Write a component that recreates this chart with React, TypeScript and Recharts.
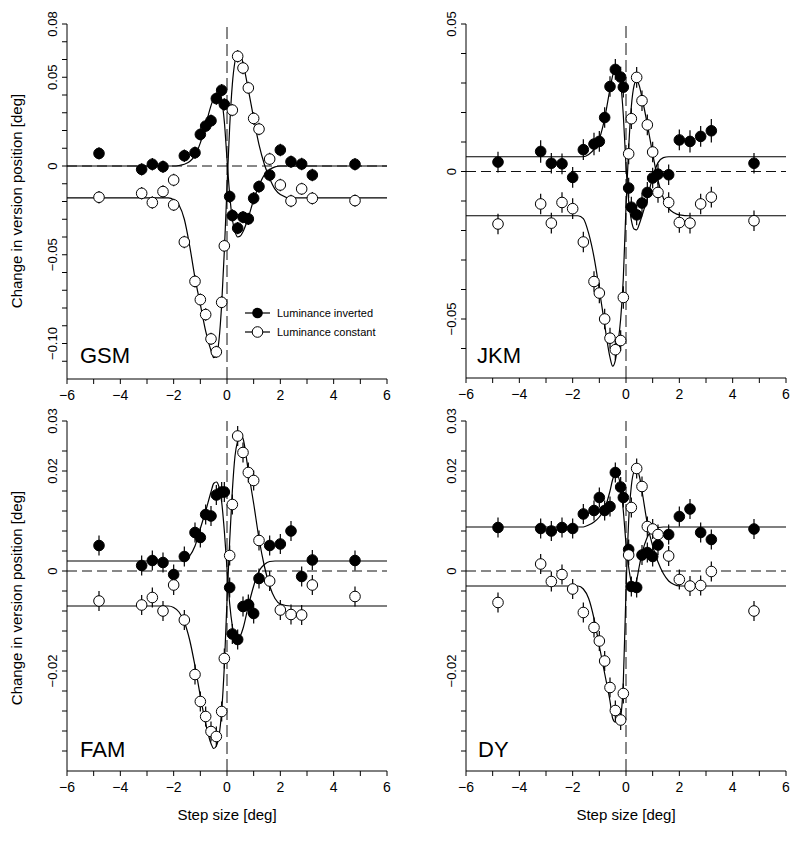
import React from 'react'
import { ComposedChart, Line, Scatter, XAxis, YAxis, ReferenceLine, ErrorBar } from 'recharts'

const FONT = '"Liberation Sans", Arial, Helvetica, sans-serif'

type Pt = [number, number, number]
type Fit = [number, number]

const stepTicks = [-6, -5, -4, -3, -2, -1, 0, 1, 2, 3, 4, 5, 6]

// ---- GSM ----
const gsmInverted: Pt[] = [
  [-4.8, 0.0071, 0.0035], [-3.2, -0.0019, 0.0035], [-2.8, 0.001, 0.0035], [-2.4, -0.0004, 0.0035],
  [-1.6, 0.0058, 0.0035], [-1.2, 0.0075, 0.0035], [-1.0, 0.0178, 0.0035], [-0.8, 0.0225, 0.0035],
  [-0.6, 0.0255, 0.0035], [-0.4, 0.038, 0.0035], [-0.2, 0.0427, 0.0035], [-0.1, 0.0347, 0.0035],
  [0.1, -0.0172, 0.0035], [0.2, -0.0279, 0.0035], [0.4, -0.035, 0.0035], [0.6, -0.0288, 0.0035],
  [0.8, -0.0298, 0.0035], [1.0, -0.0182, 0.0035], [1.2, -0.0116, 0.0035], [1.6, -0.0051, 0.0035],
  [2.0, 0.009, 0.0035], [2.4, 0.0024, 0.0035], [2.8, 0.0011, 0.0035], [3.2, -0.0051, 0.0035],
  [4.8, 0.001, 0.0035],
]
const gsmConstant: Pt[] = [
  [-4.8, -0.0176, 0.0035], [-3.2, -0.0154, 0.0035], [-2.8, -0.0206, 0.0035], [-2.4, -0.0144, 0.0035],
  [-2.0, -0.0079, 0.0035], [-2.0, -0.0219, 0.0035], [-1.6, -0.0428, 0.0035], [-1.2, -0.065, 0.0035],
  [-1.0, -0.0753, 0.0035], [-0.8, -0.0837, 0.0035], [-0.6, -0.0974, 0.0035], [-0.4, -0.1047, 0.0035],
  [-0.2, -0.0768, 0.0035], [-0.1, -0.045, 0.0035], [0.2, 0.0315, 0.0035], [0.4, 0.0618, 0.0035],
  [0.6, 0.0552, 0.0035], [0.8, 0.044, 0.0035], [1.0, 0.0268, 0.0035], [1.2, 0.0208, 0.0035],
  [1.6, 0.0039, 0.0035], [2.0, -0.0107, 0.0035], [2.4, -0.0197, 0.0035], [2.8, -0.0129, 0.0035],
  [3.2, -0.0182, 0.0035], [4.8, -0.0195, 0.0035],
]
const gsmInvertedFit: Fit[] = [
  [-6, 0], [-2, 0], [-1.8, 0.0003], [-1.6, 0.001], [-1.4, 0.0025], [-1.2, 0.006], [-1.0, 0.013],
  [-0.8, 0.023], [-0.6, 0.034], [-0.5, 0.038], [-0.4, 0.04], [-0.3, 0.0405], [-0.2, 0.037],
  [-0.1, 0.025], [0, 0.004], [0.1, -0.016], [0.2, -0.03], [0.3, -0.037], [0.4, -0.04], [0.5, -0.0395],
  [0.6, -0.037], [0.8, -0.029], [1.0, -0.019], [1.2, -0.011], [1.4, -0.005], [1.6, -0.002],
  [1.8, -0.0005], [2.0, 0], [6, 0],
]
const gsmConstantFit: Fit[] = [
  [-6, -0.018], [-2.2, -0.018], [-2.0, -0.019], [-1.8, -0.022], [-1.6, -0.03], [-1.4, -0.045],
  [-1.2, -0.063], [-1.0, -0.078], [-0.8, -0.093], [-0.6, -0.104], [-0.5, -0.108], [-0.4, -0.107],
  [-0.3, -0.098], [-0.2, -0.078], [-0.1, -0.048], [0, -0.012], [0.1, 0.022], [0.2, 0.046],
  [0.3, 0.059], [0.4, 0.064], [0.5, 0.063], [0.6, 0.058], [0.8, 0.043], [1.0, 0.027], [1.2, 0.012],
  [1.4, 0.001], [1.6, -0.007], [1.8, -0.013], [2.0, -0.016], [2.4, -0.018], [6, -0.018],
]
const gsmYTicks = [0.08, 0.07, 0.06, 0.05, 0.04, 0.03, 0.02, 0.01, 0, -0.01, -0.02, -0.03, -0.04, -0.05, -0.06, -0.07, -0.08, -0.09, -0.1, -0.11]
const gsmYLabels: [number, string][] = [[0.08, '0.08'], [0.05, '0.05'], [0, '0'], [-0.05, '−0.05'], [-0.1, '−0.10']]

// ---- JKM ----
const jkmInverted: Pt[] = [
  [-4.8, 0.0032, 0.0035], [-3.2, 0.0068, 0.0038], [-2.8, 0.0028, 0.0035], [-2.4, 0.0026, 0.0035],
  [-2.0, -0.002, 0.0035], [-1.6, 0.0074, 0.0035], [-1.2, 0.0093, 0.0038], [-1.0, 0.0102, 0.0035],
  [-0.8, 0.0183, 0.0035], [-0.6, 0.0288, 0.0035], [-0.4, 0.0346, 0.0035], [-0.2, 0.032, 0.0035],
  [-0.1, 0.0286, 0.0035], [0.1, -0.0056, 0.0035], [0.2, -0.0121, 0.0035], [0.4, -0.0147, 0.0035],
  [0.6, -0.0107, 0.0035], [0.8, -0.0071, 0.0035], [1.0, -0.0022, 0.0035], [1.2, -0.0009, 0.0035],
  [1.6, -0.0011, 0.0035], [2.0, 0.0107, 0.0035], [2.4, 0.0102, 0.0038], [2.8, 0.0119, 0.0035],
  [3.2, 0.0138, 0.004], [4.8, 0.0028, 0.0035],
]
const jkmConstant: Pt[] = [
  [-4.8, -0.0178, 0.0035], [-3.2, -0.011, 0.0035], [-2.8, -0.0175, 0.0035], [-2.4, -0.0105, 0.0035],
  [-2.0, -0.0126, 0.0035], [-1.6, -0.0239, 0.0035], [-1.2, -0.0373, 0.0035], [-1.0, -0.0412, 0.0035],
  [-0.8, -0.05, 0.0035], [-0.6, -0.0565, 0.0035], [-0.4, -0.0604, 0.0035], [-0.2, -0.0573, 0.0035],
  [-0.1, -0.0427, 0.0038], [0.1, 0.006, 0.0035], [0.2, 0.0179, 0.0035], [0.4, 0.0319, 0.0035],
  [0.6, 0.024, 0.0035], [0.8, 0.0158, 0.0035], [1.0, 0.0066, 0.0035], [1.2, -0.0071, 0.0035],
  [1.6, -0.0105, 0.0035], [2.0, -0.0173, 0.0035], [2.4, -0.0175, 0.0035], [2.8, -0.011, 0.0035],
  [3.2, -0.0087, 0.0035], [4.8, -0.0167, 0.0035],
]
const jkmInvertedFit: Fit[] = [
  [-6, 0.005], [-1.6, 0.005], [-1.4, 0.0058], [-1.2, 0.0075], [-1.0, 0.011], [-0.8, 0.018],
  [-0.6, 0.028], [-0.5, 0.0325], [-0.4, 0.0347], [-0.3, 0.034], [-0.2, 0.03], [-0.1, 0.019],
  [0, 0.002], [0.1, -0.01], [0.2, -0.0165], [0.3, -0.0195], [0.4, -0.0198], [0.5, -0.0178],
  [0.6, -0.015], [0.8, -0.009], [1.0, -0.002], [1.2, 0.003], [1.4, 0.0047], [1.6, 0.005], [6, 0.005],
]
const jkmConstantFit: Fit[] = [
  [-6, -0.015], [-1.8, -0.015], [-1.6, -0.016], [-1.4, -0.021], [-1.2, -0.029], [-1.0, -0.04],
  [-0.8, -0.052], [-0.6, -0.063], [-0.5, -0.066], [-0.4, -0.064], [-0.3, -0.058], [-0.2, -0.05],
  [-0.1, -0.036], [0, -0.012], [0.1, 0.008], [0.2, 0.022], [0.3, 0.029], [0.4, 0.031], [0.5, 0.029],
  [0.6, 0.025], [0.8, 0.016], [1.0, 0.006], [1.2, -0.003], [1.4, -0.009], [1.6, -0.0125],
  [1.8, -0.014], [2.0, -0.0147], [2.4, -0.015], [6, -0.015],
]
const jkmYTicks = [0.05, 0.04, 0.03, 0.02, 0.01, 0, -0.01, -0.02, -0.03, -0.04, -0.05, -0.06]
const jkmYLabels: [number, string][] = [[0.05, '0.05'], [0, '0'], [-0.05, '−0.05']]

// ---- FAM ----
const famInverted: Pt[] = [
  [-4.8, 0.0051, 0.002], [-3.2, 0.0011, 0.002], [-2.8, 0.0021, 0.002], [-2.4, 0.0017, 0.002],
  [-2.0, -0.0007, 0.002], [-1.6, 0.0029, 0.002], [-1.2, 0.0077, 0.002], [-1.0, 0.0067, 0.002],
  [-0.8, 0.0113, 0.002], [-0.6, 0.011, 0.002], [-0.4, 0.0152, 0.002], [-0.2, 0.0158, 0.002],
  [-0.1, 0.0158, 0.002], [0.1, -0.0033, 0.002], [0.2, -0.0126, 0.002], [0.4, -0.0137, 0.002],
  [0.6, -0.0071, 0.002], [0.8, -0.0067, 0.002], [1.0, -0.0085, 0.002], [1.2, -0.0015, 0.002],
  [1.6, 0.0051, 0.002], [2.0, 0.0054, 0.002], [2.4, 0.008, 0.002], [2.8, -0.0011, 0.002],
  [3.2, 0.0022, 0.002], [4.8, 0.0021, 0.002],
]
const famConstant: Pt[] = [
  [-4.8, -0.006, 0.002], [-3.2, -0.0068, 0.002], [-2.8, -0.0053, 0.002], [-2.4, -0.008, 0.002],
  [-2.0, -0.0028, 0.002], [-1.6, -0.0098, 0.002], [-1.2, -0.0207, 0.002], [-1.0, -0.0261, 0.002],
  [-0.8, -0.0291, 0.002], [-0.6, -0.0321, 0.002], [-0.4, -0.0331, 0.002], [-0.2, -0.0281, 0.002],
  [-0.1, -0.0175, 0.002], [0.1, 0.0031, 0.002], [0.2, 0.0133, 0.002], [0.4, 0.027, 0.002],
  [0.6, 0.0237, 0.002], [0.8, 0.0197, 0.002], [1.0, 0.0181, 0.002], [1.2, 0.0061, 0.002],
  [1.6, -0.002, 0.002], [2.0, -0.0078, 0.002], [2.4, -0.0087, 0.002], [2.8, -0.0088, 0.002],
  [3.2, -0.0028, 0.002], [4.8, -0.0051, 0.002],
]
const famInvertedFit: Fit[] = [
  [-6, 0.002], [-1.6, 0.002], [-1.4, 0.003], [-1.2, 0.005], [-1.0, 0.0085], [-0.8, 0.012],
  [-0.6, 0.0158], [-0.5, 0.0175], [-0.4, 0.0178], [-0.3, 0.0168], [-0.2, 0.0138], [-0.1, 0.008],
  [0, 0.0005], [0.1, -0.0065], [0.2, -0.011], [0.3, -0.0135], [0.4, -0.0138], [0.5, -0.013],
  [0.6, -0.0115], [0.8, -0.007], [1.0, -0.003], [1.2, 0], [1.4, 0.0013], [1.6, 0.0019], [1.8, 0.002],
  [6, 0.002],
]
const famConstantFit: Fit[] = [
  [-6, -0.007], [-2.2, -0.007], [-2.0, -0.0073], [-1.8, -0.0082], [-1.6, -0.0102], [-1.4, -0.0138],
  [-1.2, -0.019], [-1.0, -0.025], [-0.8, -0.0305], [-0.6, -0.0345], [-0.5, -0.0355], [-0.4, -0.035],
  [-0.3, -0.033], [-0.2, -0.028], [-0.1, -0.019], [0, -0.006], [0.1, 0.006], [0.2, 0.016],
  [0.3, 0.023], [0.4, 0.026], [0.5, 0.0272], [0.6, 0.0265], [0.8, 0.02], [1.0, 0.0135], [1.2, 0.0065],
  [1.4, 0.001], [1.6, -0.003], [1.8, -0.0055], [2.0, -0.0066], [2.4, -0.007], [6, -0.007],
]

// ---- DY ----
const dyInverted: Pt[] = [
  [-4.8, 0.0087, 0.002], [-3.2, 0.0085, 0.002], [-2.8, 0.008, 0.002], [-2.4, 0.0087, 0.002],
  [-2.0, 0.0085, 0.002], [-1.6, 0.0114, 0.002], [-1.2, 0.0121, 0.002], [-1.0, 0.0147, 0.002],
  [-0.8, 0.0121, 0.002], [-0.6, 0.0129, 0.002], [-0.4, 0.0197, 0.002], [-0.2, 0.0168, 0.002],
  [-0.1, 0.0147, 0.002], [0.1, 0.0043, 0.002], [0.2, -0.0031, 0.002], [0.4, -0.0033, 0.002],
  [0.6, 0.0032, 0.002], [0.8, 0.0037, 0.002], [1.0, 0.0029, 0.002], [1.2, 0.0052, 0.002],
  [1.6, 0.0073, 0.002], [2.0, 0.0109, 0.002], [2.4, 0.0124, 0.002], [2.8, 0.0077, 0.002],
  [3.2, 0.0063, 0.002], [4.8, 0.0084, 0.002],
]
const dyConstant: Pt[] = [
  [-4.8, -0.0063, 0.002], [-3.2, 0.0014, 0.002], [-2.8, -0.0021, 0.002], [-2.4, -0.0007, 0.002],
  [-2.0, -0.0036, 0.002], [-1.6, -0.0083, 0.002], [-1.2, -0.0113, 0.002], [-1.0, -0.014, 0.002],
  [-0.8, -0.018, 0.002], [-0.6, -0.0233, 0.002], [-0.4, -0.0279, 0.002], [-0.2, -0.0298, 0.002],
  [-0.1, -0.0245, 0.002], [0.1, 0.0032, 0.002], [0.2, 0.0127, 0.002], [0.4, 0.0205, 0.002],
  [0.6, 0.0169, 0.002], [0.8, 0.0089, 0.002], [1.0, 0.0084, 0.002], [1.2, 0.0073, 0.002],
  [1.6, 0.003, 0.002], [2.0, -0.0017, 0.002], [2.4, -0.003, 0.002], [2.8, -0.0029, 0.002],
  [3.2, -0.0001, 0.002], [4.8, -0.008, 0.002],
]
const dyInvertedFit: Fit[] = [
  [-6, 0.0088], [-1.6, 0.0088], [-1.4, 0.0092], [-1.2, 0.0098], [-1.0, 0.0108], [-0.8, 0.0125],
  [-0.6, 0.016], [-0.5, 0.0183], [-0.4, 0.0194], [-0.3, 0.019], [-0.2, 0.0168], [-0.1, 0.012],
  [0, 0.0055], [0.1, 0.0008], [0.2, -0.0022], [0.3, -0.003], [0.4, -0.0018], [0.5, 0.001],
  [0.6, 0.0035], [0.8, 0.0068], [1.0, 0.0083], [1.2, 0.0087], [1.4, 0.0088], [6, 0.0088],
]
const dyConstantFit: Fit[] = [
  [-6, -0.003], [-1.8, -0.003], [-1.6, -0.0036], [-1.4, -0.0055], [-1.2, -0.0095], [-1.0, -0.015],
  [-0.8, -0.0205], [-0.6, -0.026], [-0.5, -0.0295], [-0.4, -0.0302], [-0.3, -0.0302], [-0.2, -0.029],
  [-0.1, -0.022], [0, -0.004], [0.1, 0.01], [0.2, 0.017], [0.3, 0.0198], [0.4, 0.0202], [0.5, 0.019],
  [0.6, 0.016], [0.8, 0.0095], [1.0, 0.005], [1.2, 0.0018], [1.4, -0.0005], [1.6, -0.002],
  [1.8, -0.0027], [2.0, -0.003], [6, -0.003],
]

const smallYTicks = [0.03, 0.024, 0.02, 0.016, 0.012, 0.008, 0.004, 0, -0.004, -0.008, -0.012, -0.016, -0.02, -0.024, -0.028, -0.032, -0.036]
const smallYLabels: [number, string][] = [[0.03, '0.03'], [0.02, '0.02'], [0, '0'], [-0.02, '−0.02']]

const toPoints = (arr: Pt[]) => arr.map(([x, y, e]) => ({ x, y, e }))
const toFit = (arr: Fit[]) => arr.map(([x, y]) => ({ x, y }))

const FilledDot = (p: any) => <circle cx={p.cx} cy={p.cy} r={5.3} fill="#000" stroke="#000" strokeWidth={1} />
const OpenDot = (p: any) => <circle cx={p.cx} cy={p.cy} r={5.3} fill="#fff" stroke="#000" strokeWidth={1} />

const XTick = (props: any) => {
  const v = props.payload.value
  if (v % 2 !== 0) return <g />
  return (
    <text x={props.x} y={props.y + 14} textAnchor="middle" fontSize={14} fontFamily={FONT} fill="#000">
      {v < 0 ? '−' + Math.abs(v) : String(v)}
    </text>
  )
}

const makeYTick = (labels: [number, string][]) => (props: any) => {
  const v = props.payload.value
  const hit = labels.find(([val]) => Math.abs(val - v) < 1e-6)
  if (!hit) return <g />
  const x = props.x - 3
  return (
    <text x={x} y={props.y} transform={`rotate(-90, ${x}, ${props.y})`} textAnchor="middle"
      fontSize={13} fontFamily={FONT} fill="#000">{hit[1]}</text>
  )
}

const TOP_PAD = 24

function Panel(props: any) {
  const { left, top, plotH, domain, ticks, labels, inv, con, invFit, conFit } = props
  return (
    <div style={{ position: 'absolute', left: left - 68, top: top - TOP_PAD - 8 }}>
      <ComposedChart width={394} height={plotH + TOP_PAD + 34} margin={{ top: TOP_PAD, right: 14, left: 0, bottom: 0 }}>
        <XAxis type="number" dataKey="x" domain={[-6, 6]} ticks={stepTicks} interval={0} allowDataOverflow
          tickSize={5} height={34} axisLine={{ stroke: '#000' }} tickLine={{ stroke: '#000' }} tick={XTick} />
        <YAxis type="number" dataKey="y" domain={domain} ticks={ticks} interval={0} allowDataOverflow
          tickSize={5} width={60} axisLine={{ stroke: '#000' }} tickLine={{ stroke: '#000' }} tick={makeYTick(labels)} />
        <ReferenceLine y={0} stroke="#111" strokeDasharray="10 5" />
        <ReferenceLine x={0} stroke="#111" strokeDasharray="12 5" />
        <Line data={toFit(invFit)} dataKey="y" type="monotone" stroke="#000" strokeWidth={1.2} dot={false} isAnimationActive={false} />
        <Line data={toFit(conFit)} dataKey="y" type="monotone" stroke="#000" strokeWidth={1.2} dot={false} isAnimationActive={false} />
        <Scatter data={toPoints(inv)} dataKey="y" shape={FilledDot} isAnimationActive={false}>
          <ErrorBar dataKey="e" direction="y" width={0} stroke="#000" strokeWidth={1.2} />
        </Scatter>
        <Scatter data={toPoints(con)} dataKey="y" shape={OpenDot} isAnimationActive={false}>
          <ErrorBar dataKey="e" direction="y" width={0} stroke="#000" strokeWidth={1.2} />
        </Scatter>
      </ComposedChart>
    </div>
  )
}

export default function App() {
  const yTitle = 'Change in version position [deg]'
  return (
    <div style={{ position: 'relative', width: 792, height: 834 }}>
      <Panel left={67} top={24} plotH={355} domain={[-0.12, 0.08]} ticks={gsmYTicks} labels={gsmYLabels}
        inv={gsmInverted} con={gsmConstant} invFit={gsmInvertedFit} conFit={gsmConstantFit} />
      <Panel left={466} top={24} plotH={354} domain={[-0.07, 0.05]} ticks={jkmYTicks} labels={jkmYLabels}
        inv={jkmInverted} con={jkmConstant} invFit={jkmInvertedFit} conFit={jkmConstantFit} />
      <Panel left={67} top={421} plotH={350} domain={[-0.04, 0.03]} ticks={smallYTicks} labels={smallYLabels}
        inv={famInverted} con={famConstant} invFit={famInvertedFit} conFit={famConstantFit} />
      <Panel left={466} top={421} plotH={350} domain={[-0.04, 0.03]} ticks={smallYTicks} labels={smallYLabels}
        inv={dyInverted} con={dyConstant} invFit={dyInvertedFit} conFit={dyConstantFit} />
      <svg width={800} height={842} style={{ position: 'absolute', left: -8, top: -8, pointerEvents: 'none' }}
        fontFamily={FONT}>
        <text x={80} y={363} fontSize={22}>GSM</text>
        <text x={477} y={363} fontSize={22}>JKM</text>
        <text x={80} y={757} fontSize={22}>FAM</text>
        <text x={478} y={757} fontSize={22}>DY</text>
        <text x={22} y={201} fontSize={15} textAnchor="middle" transform="rotate(-90, 22, 201)">{yTitle}</text>
        <text x={22} y={598} fontSize={15} textAnchor="middle" transform="rotate(-90, 22, 598)">{yTitle}</text>
        <text x={227} y={820} fontSize={15} textAnchor="middle">Step size [deg]</text>
        <text x={626} y={820} fontSize={15} textAnchor="middle">Step size [deg]</text>
        <line x1={245} x2={270} y1={313} y2={313} stroke="#000" strokeWidth={1.2} />
        <circle cx={257.5} cy={313} r={5.3} fill="#000" />
        <text x={277} y={317} fontSize={11}>Luminance inverted</text>
        <line x1={245} x2={270} y1={332} y2={332} stroke="#000" strokeWidth={1.2} />
        <circle cx={257.5} cy={332} r={5.3} fill="#fff" stroke="#000" strokeWidth={1} />
        <text x={277} y={336} fontSize={11}>Luminance constant</text>
      </svg>
    </div>
  )
}
